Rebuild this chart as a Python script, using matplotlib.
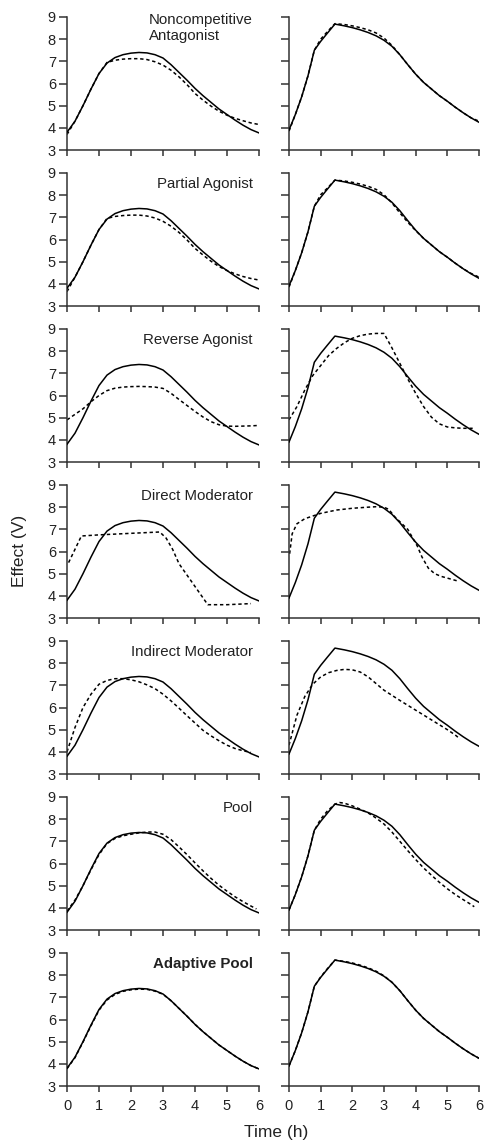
import matplotlib.pyplot as plt

plt.rcParams['font.family'] = ['Liberation Sans', 'DejaVu Sans']

# time grids (h)
t_grid = [0, 0.25, 0.5, 0.75, 1.0, 1.25, 1.5, 1.75, 2.0, 2.25, 2.5, 2.75, 3.0,
          3.25, 3.5, 3.75, 4.0, 4.25, 4.5, 4.75, 5.0, 5.25, 5.5, 5.75, 6.0]
t_right = [0, 0.2, 0.4, 0.6, 0.8, 1.0, 1.2, 1.45, 1.75, 2.0, 2.25, 2.5, 2.75,
           3.0, 3.25, 3.5, 3.75, 4.0, 4.25, 4.5, 4.75, 5.0, 5.25, 5.5, 5.75, 6.0]

# observed effect (solid), same in every row
obs_left = [3.8, 4.3, 5.0, 5.75, 6.45, 6.92, 7.17, 7.3, 7.37, 7.4, 7.38, 7.3, 7.15,
            6.85, 6.5, 6.15, 5.78, 5.45, 5.15, 4.85, 4.6, 4.35, 4.12, 3.92, 3.77]
obs_right = [3.9, 4.6, 5.4, 6.35, 7.5, 7.9, 8.25, 8.68, 8.6, 8.52, 8.42, 8.3, 8.15,
             7.95, 7.68, 7.3, 6.85, 6.42, 6.05, 5.75, 5.45, 5.2, 4.93, 4.68, 4.45, 4.25]

# model fits (dashed)
nca_left = [3.7, 4.3, 5.0, 5.75, 6.45, 6.95, 7.05, 7.1, 7.12, 7.12, 7.08, 6.98, 6.83,
            6.6, 6.3, 5.95, 5.55, 5.25, 4.98, 4.75, 4.57, 4.43, 4.32, 4.22, 4.15]
nca_right = [3.85, 4.6, 5.4, 6.35, 7.5, 8.0, 8.32, 8.7, 8.66, 8.6, 8.52, 8.42, 8.28,
             8.05, 7.72, 7.3, 6.85, 6.42, 6.05, 5.75, 5.45, 5.2, 4.93, 4.68, 4.45, 4.3]

pa_left = [3.65, 4.3, 5.0, 5.75, 6.45, 6.95, 7.04, 7.08, 7.1, 7.1, 7.06, 6.97, 6.82,
           6.6, 6.32, 5.98, 5.6, 5.3, 5.02, 4.78, 4.6, 4.45, 4.33, 4.24, 4.17]
pa_right = [3.85, 4.6, 5.4, 6.35, 7.5, 8.02, 8.3, 8.68, 8.64, 8.58, 8.5, 8.4, 8.26,
            8.02, 7.65, 7.2, 6.78, 6.4, 6.05, 5.75, 5.45, 5.2, 4.93, 4.68, 4.47, 4.3]

ra_left = [4.9, 5.15, 5.4, 5.72, 6.0, 6.22, 6.33, 6.38, 6.4, 6.41, 6.4, 6.38, 6.32,
           6.1, 5.82, 5.55, 5.28, 5.03, 4.82, 4.68, 4.62, 4.61, 4.62, 4.63, 4.65]
ra_right_t = [0, 0.25, 0.5, 0.75, 1.0, 1.25, 1.5, 1.75, 2.0, 2.25, 2.5, 2.75, 3.0,
              3.25, 3.5, 3.75, 4.0, 4.25, 4.5, 4.75, 5.0, 5.25, 5.5, 5.8]
ra_right = [4.9, 5.5, 6.25, 6.9, 7.35, 7.8, 8.12, 8.38, 8.58, 8.7, 8.77, 8.8, 8.8,
            8.15, 7.45, 6.75, 6.1, 5.5, 5.02, 4.72, 4.58, 4.54, 4.52, 4.52]

dm_left_t = [0.05, 0.45, 1.0, 2.0, 2.9, 3.1, 3.3, 3.5, 4.4, 5.0, 5.75]
dm_left = [5.5, 6.7, 6.75, 6.82, 6.88, 6.6, 6.1, 5.45, 3.6, 3.6, 3.65]
dm_right_t = [0.02, 0.1, 0.25, 0.5, 0.75, 1.0, 1.5, 2.0, 2.5, 2.75, 3.0, 3.15, 3.35,
              3.75, 4.05, 4.2, 4.4, 4.6, 4.8, 5.0, 5.3]
dm_right = [5.9, 6.8, 7.25, 7.48, 7.6, 7.72, 7.87, 7.95, 8.0, 8.02, 8.0, 7.9, 7.55,
            7.0, 6.25, 5.75, 5.25, 5.0, 4.88, 4.8, 4.68]

im_left_t = [0, 0.25, 0.5, 0.75, 1.0, 1.25, 1.5, 1.75, 2.0, 2.25, 2.5, 2.75, 3.0,
             3.25, 3.5, 3.75, 4.0, 4.25, 4.5, 4.75, 5.0, 5.25, 5.5, 5.75]
im_left = [4.0, 5.1, 6.0, 6.6, 7.05, 7.22, 7.3, 7.3, 7.25, 7.16, 7.02, 6.85, 6.6,
           6.3, 5.97, 5.63, 5.3, 4.97, 4.72, 4.5, 4.3, 4.15, 4.05, 3.97]
im_right_t = [0, 0.25, 0.5, 0.75, 1.0, 1.25, 1.5, 1.75, 2.0, 2.25, 2.5, 2.75, 3.0,
              3.25, 3.5, 3.75, 4.0, 4.25, 4.5, 4.75, 5.0, 5.25, 5.4]
im_right = [4.3, 5.65, 6.5, 7.05, 7.38, 7.57, 7.67, 7.72, 7.7, 7.6, 7.38, 7.08, 6.78,
            6.55, 6.32, 6.1, 5.88, 5.66, 5.44, 5.22, 5.0, 4.76, 4.58]

pool_left_t = [0, 0.25, 0.5, 0.75, 1.0, 1.25, 1.5, 1.75, 2.0, 2.25, 2.5, 2.75, 3.0,
               3.25, 3.5, 3.75, 4.0, 4.25, 4.5, 4.75, 5.0, 5.25, 5.5, 5.75, 5.92]
pool_left = [3.85, 4.35, 5.0, 5.72, 6.4, 6.9, 7.13, 7.25, 7.32, 7.38, 7.42, 7.42, 7.32,
             7.08, 6.75, 6.4, 6.03, 5.67, 5.33, 5.02, 4.75, 4.5, 4.28, 4.08, 3.95]
pool_right_t = [0, 0.2, 0.4, 0.6, 0.8, 1.0, 1.2, 1.45, 1.6, 1.75, 2.0, 2.25, 2.5, 2.75,
                3.0, 3.25, 3.5, 3.75, 4.0, 4.25, 4.5, 4.75, 5.0, 5.25, 5.5, 5.75, 5.85]
pool_right = [3.9, 4.6, 5.4, 6.35, 7.5, 8.0, 8.35, 8.68, 8.75, 8.72, 8.6, 8.45, 8.28, 8.05,
              7.78, 7.42, 7.0, 6.58, 6.18, 5.8, 5.47, 5.15, 4.86, 4.6, 4.37, 4.15, 4.05]

ap_left = [3.78, 4.28, 4.98, 5.72, 6.42, 6.88, 7.13, 7.27, 7.34, 7.37, 7.36, 7.28, 7.14,
           6.85, 6.5, 6.15, 5.78, 5.45, 5.15, 4.85, 4.6, 4.35, 4.12, 3.92, 3.77]
ap_right = [3.9, 4.6, 5.4, 6.35, 7.5, 7.92, 8.27, 8.68, 8.62, 8.55, 8.45, 8.33, 8.18,
            7.97, 7.68, 7.3, 6.85, 6.42, 6.05, 5.75, 5.45, 5.2, 4.93, 4.68, 4.45, 4.25]

labels = ['Noncompetitive\nAntagonist', 'Partial Agonist', 'Reverse Agonist',
          'Direct Moderator', 'Indirect Moderator', 'Pool', 'Adaptive Pool']

rows = [
    (t_grid, nca_left, t_right, nca_right),
    (t_grid, pa_left, t_right, pa_right),
    (t_grid, ra_left, ra_right_t, ra_right),
    (dm_left_t, dm_left, dm_right_t, dm_right),
    (im_left_t, im_left, im_right_t, im_right),
    (pool_left_t, pool_left, pool_right_t, pool_right),
    (t_grid, ap_left, t_right, ap_right),
]

W, H = 485, 1142
fig = plt.figure(figsize=(W / 100, H / 100), dpi=100)

spine_col = '#333333'
cols = [(67, 259), (289, 479)]

for i, (tl, yl, tr, yr) in enumerate(rows):
    top = 17 + 156 * i
    for j, (x0, x1) in enumerate(cols):
        ax = fig.add_axes([x0 / W, 1 - (top + 133) / H, (x1 - x0) / W, 133 / H])
        if j == 0:
            ax.plot(t_grid, obs_left, color='black', lw=1.1, zorder=3)
            ax.plot(tl, yl, color='black', lw=1.1, ls=(0, (2.2, 1.8)), zorder=2)
        else:
            ax.plot(t_right, obs_right, color='black', lw=1.1, zorder=3)
            ax.plot(tr, yr, color='black', lw=1.1, ls=(0, (2.2, 1.8)), zorder=2)
        ax.set_xlim(0, 6)
        ax.set_ylim(3, 9)
        ax.set_xticks(range(0, 7))
        ax.set_yticks(range(3, 10))
        for s in ['top', 'right']:
            ax.spines[s].set_visible(False)
        for s in ['left', 'bottom']:
            ax.spines[s].set_color(spine_col)
            ax.spines[s].set_linewidth(1.1)
        ax.tick_params(axis='y', length=6, width=1.1, color=spine_col,
                       labelsize=10.5, labelcolor='#222222', pad=2)
        ax.tick_params(axis='x', length=4.3, width=1.1, color=spine_col,
                       labelsize=10.5, labelcolor='#222222', pad=5)
        if j == 1:
            ax.set_yticklabels([])
        if i < 6:
            ax.set_xticklabels([])
        if j == 0:
            ax.text(5.8, 8.5, labels[i], ha='right', va='center', multialignment='left',
                    fontsize=10.8, color='#222222', linespacing=1.2,
                    fontweight='bold' if i == 6 else 'normal')

fig.text(20 / W, 1 - 551 / H, 'Effect (V)', rotation=90, ha='center', va='center',
         fontsize=12.5, color='#222222')
fig.text(276 / W, 1 - 1132 / H, 'Time (h)', ha='center', va='center',
         fontsize=12.5, color='#222222')

fig.savefig('out.png', dpi=100)
